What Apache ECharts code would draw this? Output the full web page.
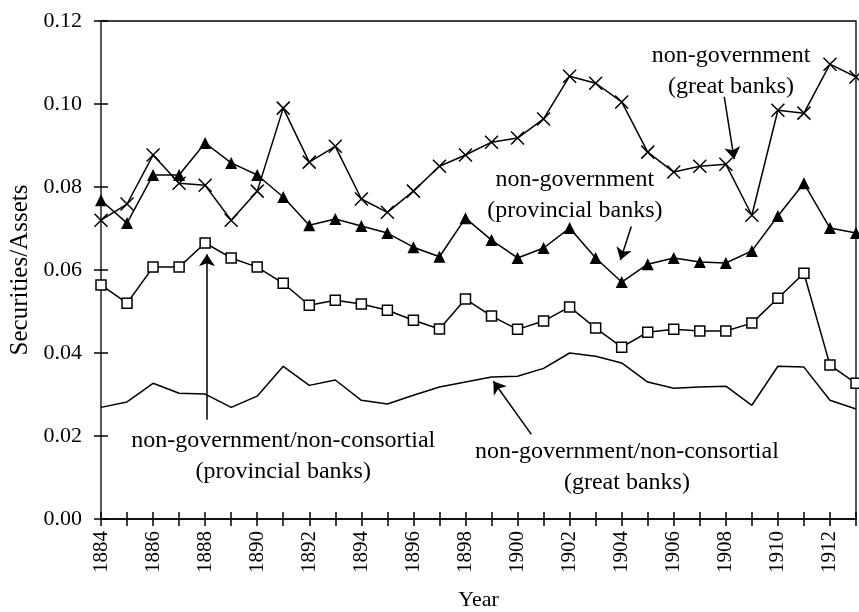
<!DOCTYPE html>
<html>
<head>
<meta charset="utf-8">
<script src="https://cdn.jsdelivr.net/npm/echarts@6/dist/echarts.min.js"></script>
<style>
  html, body { margin: 0; padding: 0; background: #fff; }
  #chart { width: 859px; height: 612px; }
</style>
</head>
<body>
<div id="chart"></div>
<script>
  // years on the x axis
  var years = [1884, 1885, 1886, 1887, 1888, 1889, 1890, 1891, 1892, 1893,
               1894, 1895, 1896, 1897, 1898, 1899, 1900, 1901, 1902, 1903,
               1904, 1905, 1906, 1907, 1908, 1909, 1910, 1911, 1912, 1913]

  // non-government (great banks) - crosses
  var greatNonGov = [0.0720, 0.0759, 0.0877, 0.0809, 0.0804, 0.0720, 0.0790, 0.0990, 0.0860, 0.0898,
                     0.0771, 0.0739, 0.0790, 0.0850, 0.0877, 0.0908, 0.0918, 0.0964, 0.1067, 0.1050,
                     0.1005, 0.0884, 0.0836, 0.0850, 0.0855, 0.0732, 0.0985, 0.0978, 0.1096, 0.1065]
  // non-government (provincial banks) - filled triangles
  var provNonGov = [0.0768, 0.0713, 0.0829, 0.0829, 0.0906, 0.0858, 0.0829, 0.0776, 0.0708, 0.0723,
                    0.0706, 0.0689, 0.0655, 0.0632, 0.0725, 0.0672, 0.0629, 0.0653, 0.0701, 0.0629,
                    0.0571, 0.0614, 0.0629, 0.0619, 0.0617, 0.0646, 0.0730, 0.0809, 0.0701, 0.0689]
  // non-government/non-consortial (provincial banks) - open squares
  var provNonCons = [0.0564, 0.0520, 0.0607, 0.0607, 0.0665, 0.0629, 0.0607, 0.0568, 0.0515, 0.0527,
                     0.0518, 0.0503, 0.0479, 0.0458, 0.0530, 0.0489, 0.0457, 0.0477, 0.0511, 0.0460,
                     0.0414, 0.0450, 0.0457, 0.0453, 0.0453, 0.0472, 0.0532, 0.0592, 0.0371, 0.0327]
  // non-government/non-consortial (great banks) - plain line
  var greatNonCons = [0.0269, 0.0282, 0.0327, 0.0303, 0.0301, 0.0269, 0.0296, 0.0368, 0.0322, 0.0335,
                      0.0286, 0.0277, 0.0298, 0.0318, 0.0330, 0.0342, 0.0344, 0.0363, 0.0400, 0.0392,
                      0.0376, 0.0330, 0.0315, 0.0318, 0.0320, 0.0274, 0.0368, 0.0366, 0.0286, 0.0265]

  // annotation texts, anchored in data units
  var labelTexts = ['non-government\n(great banks)',
                    'non-government\n(provincial banks)',
                    'non-government/non-consortial\n(provincial banks)',
                    'non-government/non-consortial\n(great banks)']
  var labelAnchors = [[1908.2, 0.1080], [1902.2, 0.0780], [1891.0, 0.0152], [1904.2, 0.0125]]
  // arrows: [from, to]
  var arrows = [
    [[1907.94, 0.1017], [1908.32, 0.0867]],
    [[1904.37, 0.0705], [1903.95, 0.0624]],
    [[1888.07, 0.0239], [1888.07, 0.0638]],
    [[1900.53, 0.0204], [1899.07, 0.0332]]
  ]

  var FONT = 'Liberation Serif'

  function pairs(arr) {
    return years.map(function (y, i) { return [y, arr[i]] })
  }

  var chart = echarts.init(document.getElementById('chart'))

  var xBase = {
    type: 'value', min: 1884, max: 1913, interval: 1,
    splitLine: { show: false }
  }

  var option = {
    animation: false,
    backgroundColor: '#fff',
    // the grid border gives the left axis line plus the thin top/right frame
    grid: {
      left: 101, right: 3, top: 21, bottom: 93,
      containLabel: false, outerBoundsMode: 'none',
      show: true, borderColor: '#000', borderWidth: 1.3
    },
    xAxis: [
      Object.assign({}, xBase, {
        position: 'bottom',
        name: 'Year', nameLocation: 'middle', nameGap: 70,
        nameTextStyle: { fontFamily: FONT, fontSize: 22, color: '#000' },
        axisLine: { lineStyle: { color: '#000', width: 1.5 } },
        axisTick: { inside: false, length: 7, lineStyle: { color: '#000', width: 1.5 } },
        axisLabel: {
          rotate: 90, margin: 12,
          fontFamily: FONT, fontSize: 21, color: '#000',
          formatter: function (v) { return v % 2 === 0 ? String(v) : '' }
        }
      }),
      Object.assign({}, xBase, {
        position: 'bottom',
        axisLine: { show: false },
        axisTick: { inside: true, length: 7, lineStyle: { color: '#000', width: 1.5 } },
        axisLabel: { show: false }
      })
    ],
    // y axis shifted 7px inwards so its 14px ticks cross the frame line
    yAxis: {
      type: 'value', min: 0, max: 0.12, interval: 0.02,
      position: 'left', offset: -7,
      splitLine: { show: false },
      name: 'Securities/Assets', nameLocation: 'middle', nameGap: 75,
      nameTextStyle: { fontFamily: FONT, fontSize: 25, color: '#000' },
      axisLine: { show: true, onZero: false, lineStyle: { color: 'rgba(0,0,0,0)', width: 1 } },
      axisTick: { show: true, inside: false, length: 14, lineStyle: { color: '#000', width: 1.5 } },
      axisLabel: {
        margin: 26, fontFamily: FONT, fontSize: 22, color: '#000',
        formatter: function (v) { return v.toFixed(2) }
      }
    },
    series: [
      {
        name: 'non-government/non-consortial (great banks)',
        type: 'line', data: pairs(greatNonCons),
        showSymbol: false, symbol: 'none',
        lineStyle: { color: '#000', width: 1.5 },
        itemStyle: { color: '#000' },
        markLine: {
          silent: true, symbol: ['none', 'arrow'], symbolSize: 12,
          label: { show: false },
          lineStyle: { color: '#000', width: 1.5, type: 'solid' },
          data: arrows.map(function (a) {
            return [{ coord: a[0] }, { coord: a[1] }]
          })
        }
      },
      {
        name: 'non-government/non-consortial (provincial banks)',
        type: 'line', data: pairs(provNonCons),
        symbol: 'rect', symbolSize: 10,
        lineStyle: { color: '#000', width: 1.5 },
        itemStyle: { color: '#fff', borderColor: '#000', borderWidth: 1.5 }
      },
      {
        name: 'non-government (provincial banks)',
        type: 'line', data: pairs(provNonGov),
        symbol: 'triangle', symbolSize: 12,
        lineStyle: { color: '#000', width: 1.5 },
        itemStyle: { color: '#000' }
      },
      {
        name: 'non-government (great banks)',
        type: 'line', data: pairs(greatNonGov),
        symbol: 'path://M0,0L10,10M10,0L0,10', symbolSize: 13,
        lineStyle: { color: '#000', width: 1.5 },
        itemStyle: { color: '#000', borderColor: '#000', borderWidth: 1.5 }
      }
    ]
  }

  chart.setOption(option)

  // place annotation texts from data coordinates
  var texts = labelTexts.map(function (t, i) {
    var p = chart.convertToPixel({ gridIndex: 0 }, labelAnchors[i])
    return {
      type: 'text', x: p[0], y: p[1],
      style: {
        text: t, fontFamily: FONT, fontSize: 24, fill: '#000',
        align: 'center', verticalAlign: 'middle', lineHeight: 31
      }
    }
  })
  chart.setOption({ graphic: texts })
</script>
</body>
</html>
